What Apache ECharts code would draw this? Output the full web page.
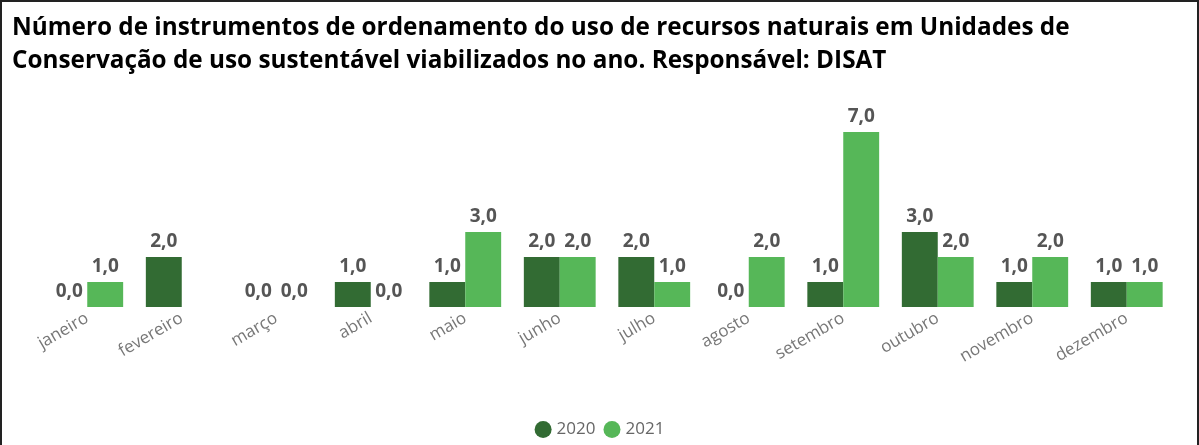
<!DOCTYPE html>
<html>
<head>
<meta charset="utf-8">
<script src="https://cdn.jsdelivr.net/npm/echarts@6/dist/echarts.min.js"></script>
<style>
html,body{margin:0;padding:0;background:#fff;}
#wrap{position:absolute;left:0;top:0;width:1199px;height:445px;box-sizing:border-box;border-left:2px solid #222;border-right:2px solid #222;border-top:2px solid #222;}
#chart{position:absolute;left:0;top:0;width:1199px;height:445px;}
</style>
</head>
<body>
<div id="chart"></div>
<div id="wrap"></div>
<script>
const titleLines = ["Número de instrumentos de ordenamento do uso de recursos naturais em Unidades de", "Conservação de uso sustentável viabilizados no ano. Responsável: DISAT"];
const categories = ["janeiro","fevereiro","março","abril","maio","junho","julho","agosto","setembro","outubro","novembro","dezembro"];
const seriesNames = ["2020","2021"];
const values2020 = [0,2,0,1,1,2,2,0,1,3,1,1];
const values2021 = [1,null,0,0,3,2,1,2,7,2,2,1];
const colors = ["#326b33","#56b758"];

const chart = echarts.init(document.getElementById('chart'));
const labelCfg = {
  show: true, position: 'top', distance: 6,
  color: '#555', fontWeight: 'bold', fontSize: 19, fontFamily: 'Open Sans',
  formatter: p => p.value == null ? '' : Number(p.value).toFixed(1).replace('.', ',')
};
chart.setOption({
  animation: false,
  title: {
    text: titleLines.join('\n'), left: 7, top: 7,
    textStyle: { fontFamily: 'Open Sans', fontWeight: 'bold', fontSize: 24.3, color: '#000', lineHeight: 33 }
  },
  legend: {
    bottom: 2, left: 'center', icon: 'circle', itemWidth: 17, itemHeight: 17, itemGap: 8,
    textStyle: { color: '#666', fontSize: 17, fontFamily: 'Open Sans' },
    data: seriesNames
  },
  grid: { left: 40, right: 25, top: 107, bottom: 138 },
  xAxis: {
    type: 'category', data: categories,
    axisLine: { show: false }, axisTick: { show: false },
    axisLabel: { rotate: 30, margin: 10, color: '#777', fontSize: 17, fontFamily: 'Open Sans', interval: 0 }
  },
  yAxis: { type: 'value', min: 0, max: 8, show: false, splitLine: { show: false } },
  series: [
    { name: seriesNames[0], type: 'bar', data: values2020, color: colors[0], barGap: '0%', barCategoryGap: '24%', label: labelCfg },
    { name: seriesNames[1], type: 'bar', data: values2021, color: colors[1], barGap: '0%', barCategoryGap: '24%', label: labelCfg }
  ]
});
</script>
</body>
</html>
